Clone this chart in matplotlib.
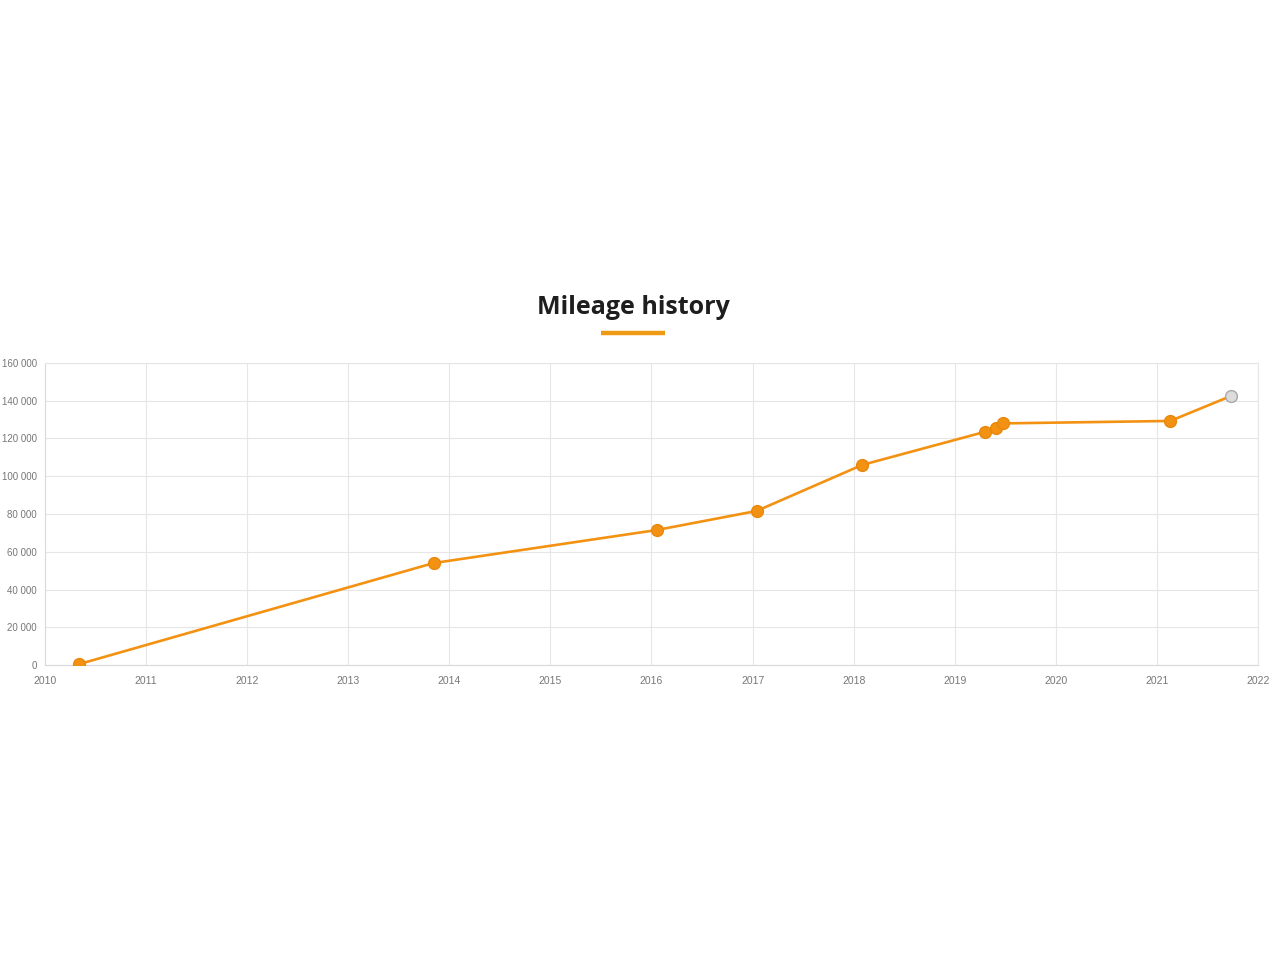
import matplotlib
matplotlib.use("Agg")
import matplotlib.pyplot as plt
import matplotlib.dates as mdates
from matplotlib.ticker import FuncFormatter
from datetime import date

# Mileage readings
dates = [date(2010, 5, 5), date(2013, 11, 5), date(2016, 1, 20), date(2017, 1, 15),
         date(2018, 2, 1), date(2019, 4, 22), date(2019, 5, 30), date(2019, 6, 25),
         date(2021, 2, 18), date(2021, 9, 25)]
mileage = [500, 54000, 71500, 81600, 106000, 123600, 125400, 128000, 129300, 142500]
# last reading is shown as an estimate (grey marker)
estimated = [False] * 9 + [True]

year_ticks = list(range(2010, 2023))
y_ticks = list(range(0, 160001, 20000))

orange = "#f39212"
plt.rcParams["font.family"] = ["Liberation Sans", "DejaVu Sans"]

fig = plt.figure(figsize=(12.8, 9.6), dpi=100)
ax = fig.add_axes([45 / 1280, 1 - 665 / 960, (1258 - 45) / 1280, (665 - 363) / 960])

x = mdates.date2num(dates)
ax.plot(x, mileage, color=orange, lw=1.9, zorder=2)
for xi, yi, est in zip(x, mileage, estimated):
    if est:
        ax.plot(xi, yi, "o", ms=8.5, mfc="#dcdcdc", mec="#a8a8a8", mew=1, zorder=3)
    else:
        ax.plot(xi, yi, "o", ms=8.5, mfc=orange, mec="#e8870a", mew=1, zorder=3)

ax.set_xlim(mdates.date2num(date(2010, 1, 1)), mdates.date2num(date(2022, 1, 1)))
ax.set_ylim(0, 160000)
ax.set_xticks([mdates.date2num(date(y, 1, 1)) for y in year_ticks])
ax.set_xticklabels([str(y) for y in year_ticks])
ax.set_yticks(y_ticks)
ax.yaxis.set_major_formatter(FuncFormatter(lambda v, p: f"{int(v):,}".replace(",", " ")))

ax.grid(True, color="#e6e6e6", lw=0.8)
ax.set_axisbelow(True)
for s in ["top", "right"]:
    ax.spines[s].set_color("#e6e6e6")
    ax.spines[s].set_linewidth(0.8)
for s in ["left", "bottom"]:
    ax.spines[s].set_color("#d9d9d9")
    ax.spines[s].set_linewidth(0.8)
ax.tick_params(axis="both", length=0, labelsize=7, labelcolor="#777777")
ax.tick_params(axis="x", labelsize=7.5, pad=8)
ax.tick_params(axis="y", pad=6)

fig.text(633 / 1280, 1 - 307 / 960, "Mileage history", ha="center", va="center",
         fontsize=18, fontweight="bold", color="#1e1e1e", family=["Open Sans", "DejaVu Sans"])
fig.add_artist(plt.Line2D([601 / 1280, 665 / 1280], [1 - 333 / 960, 1 - 333 / 960],
                          color="#ee9a14", lw=3.2, solid_capstyle="butt"))

plt.savefig("out.png", dpi=100, facecolor="white")
